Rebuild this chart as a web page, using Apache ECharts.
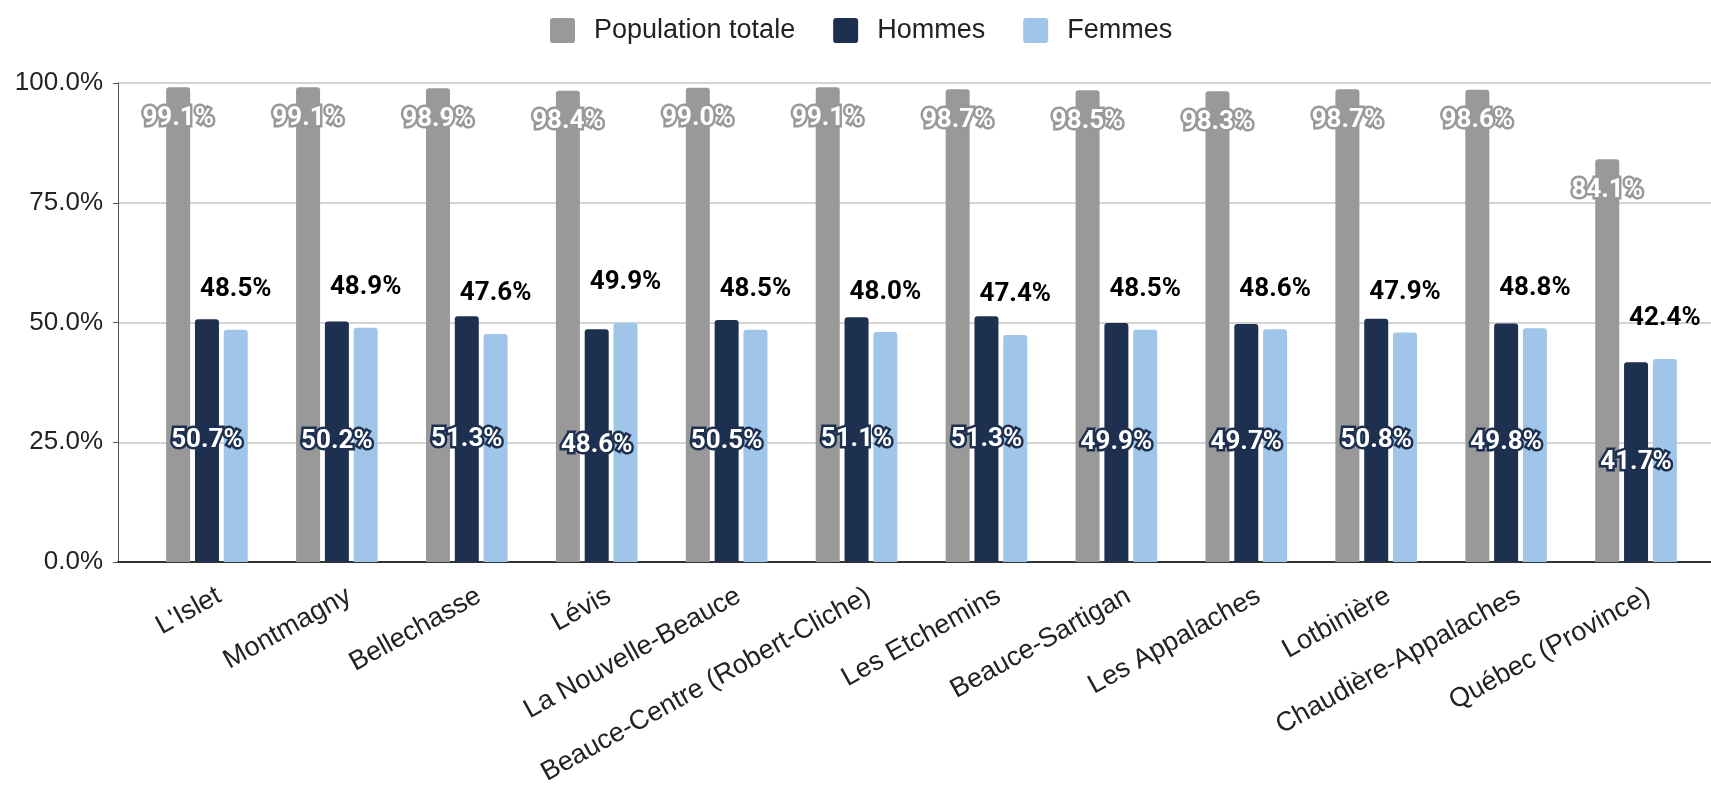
<!DOCTYPE html>
<html>
<head>
<meta charset="utf-8">
<script src="https://cdn.jsdelivr.net/npm/echarts@6/dist/echarts.min.js"></script>
<style>
  html, body { margin: 0; padding: 0; background: #fff; }
  #chart { width: 1711px; height: 790px; }
</style>
</head>
<body>
<div id="chart"></div>
<script>
const categories = [
  "L'Islet", 'Montmagny', 'Bellechasse', 'Lévis', 'La Nouvelle-Beauce',
  'Beauce-Centre (Robert-Cliche)', 'Les Etchemins', 'Beauce-Sartigan',
  'Les Appalaches', 'Lotbinière', 'Chaudière-Appalaches', 'Québec (Province)'
];
const populationTotale = [99.1, 99.1, 98.9, 98.4, 99.0, 99.1, 98.7, 98.5, 98.3, 98.7, 98.6, 84.1];
const hommes = [50.7, 50.2, 51.3, 48.6, 50.5, 51.1, 51.3, 49.9, 49.7, 50.8, 49.8, 41.7];
const femmes = [48.5, 48.9, 47.6, 49.9, 48.5, 48.0, 47.4, 48.5, 48.6, 47.9, 48.8, 42.4];
const yTicks = [0, 25, 50, 75, 100];

const axisFont = '"Liberation Sans", Arial, sans-serif';
const labelFont = 'Roboto, "Noto Sans", sans-serif';

const chart = echarts.init(document.getElementById('chart'));

const pct = p => p.value.toFixed(1) + '%';
const squareIcon = 'path://M3,0 H21 Q24,0 24,3 V21 Q24,24 21,24 H3 Q0,24 0,21 V3 Q0,0 3,0 Z';

function barSeries(name, data, label) {
  return {
    name: name,
    type: 'bar',
    data: data,
    barWidth: 24,
    barGap: '20%',
    itemStyle: { borderRadius: [3, 3, 0, 0] },
    label: Object.assign({
      show: true,
      formatter: pct,
      fontFamily: labelFont,
      fontWeight: 'bold',
      fontSize: 26
    }, label)
  };
}

const option = {
  animation: false,
  color: ['#999999', '#1e3050', '#9fc5e8'],
  legend: {
    top: 12,
    left: 545,
    icon: squareIcon,
    itemWidth: 25,
    itemHeight: 25,
    itemGap: 38,
    textStyle: {
      fontFamily: axisFont,
      fontSize: 27,
      color: '#222',
      padding: [0, 0, 0, 14]
    }
  },
  grid: [
    { left: 142, right: 10, top: 83, bottom: 228 },
    // wider grid only for gridlines / baseline, like the sheet's plot area
    { left: 118, right: 0, top: 83, bottom: 228 }
  ],
  xAxis: [
    {
      type: 'category',
      data: categories,
      axisTick: { show: false },
      axisLine: { show: false },
      axisLabel: {
        interval: 0,
        rotate: 29,
        margin: 39,
        padding: [0, -14, 0, 0],
        fontFamily: axisFont,
        fontSize: 27,
        color: '#222'
      }
    },
    {
      type: 'value',
      gridIndex: 1,
      min: 0,
      max: 1,
      axisLine: { show: true, lineStyle: { color: '#333', width: 2 } },
      axisTick: { show: false },
      axisLabel: { show: false },
      splitLine: { show: false }
    }
  ],
  yAxis: [
    {
      type: 'value',
      min: yTicks[0],
      max: yTicks[yTicks.length - 1],
      interval: 25,
      axisLabel: {
        margin: 39,
        fontFamily: axisFont,
        fontSize: 26,
        color: '#222',
        formatter: v => v.toFixed(1) + '%'
      },
      splitLine: { show: false }
    },
    {
      type: 'value',
      gridIndex: 1,
      min: yTicks[0],
      max: yTicks[yTicks.length - 1],
      interval: 25,
      axisLabel: { show: false },
      splitLine: { lineStyle: { color: '#d4d4d4', width: 2 } }
    }
  ],
  series: [
    barSeries('Population totale', populationTotale, {
      position: 'insideTop',
      distance: 18,
      color: '#fff',
      textBorderColor: '#999999',
      textBorderWidth: 5
    }),
    barSeries('Hommes', hommes, {
      position: 'inside',
      color: '#fff',
      textBorderColor: '#1e3050',
      textBorderWidth: 5
    }),
    barSeries('Femmes', femmes, {
      position: 'top',
      distance: 27,
      color: '#000'
    })
  ]
};

chart.setOption(option);
</script>
</body>
</html>
